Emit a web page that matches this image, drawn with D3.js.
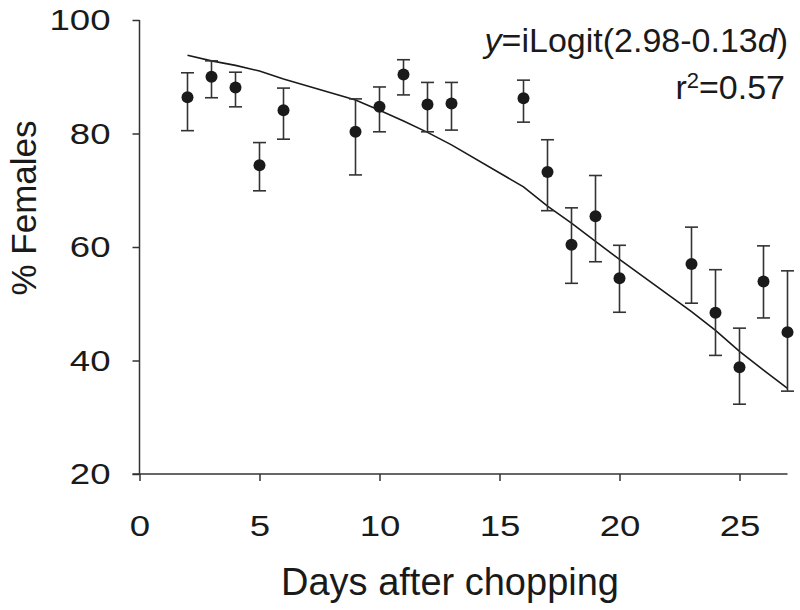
<!DOCTYPE html>
<html>
<head>
<meta charset="utf-8">
<script src="https://cdn.jsdelivr.net/npm/d3@7/dist/d3.min.js"></script>
<style>
  body { margin: 0; background: #fff; }
  svg { display: block; }
  text { font-family: "Liberation Sans", Arial, sans-serif; fill: #1a1a1a; }
</style>
</head>
<body>
<svg id="chart" width="800" height="610" viewBox="0 0 800 610"></svg>
<script>
// days after chopping and % females (mean, upper and lower error bar)
const days  = [2, 3, 4, 5, 6, 9, 10, 11, 12, 13, 16, 17, 18, 19, 20, 23, 24, 25, 26, 27]
const pct   = [86.4, 90.0, 88.1, 74.4, 84.1, 80.3, 84.7, 90.4, 85.1, 85.3, 86.2, 73.2, 60.4, 65.4, 54.5, 57.0, 48.4, 38.8, 53.9, 45.0]
const upper = [90.7, 92.8, 90.8, 78.4, 88.0, 86.1, 88.2, 93.0, 89.0, 89.0, 89.4, 78.9, 66.9, 72.6, 60.3, 63.5, 56.0, 45.7, 60.2, 55.8]
const lower = [80.5, 86.3, 84.7, 69.9, 79.0, 72.7, 80.3, 86.8, 80.3, 80.6, 82.0, 66.4, 53.6, 57.4, 48.5, 50.1, 40.9, 32.3, 47.5, 34.6]
// fitted curve
const fit   = [93.8, 92.8, 92.0, 91.0, 89.6, 85.9, 84.1, 82.2, 80.2, 78.0, 70.6, 67.2, 64.2, 61.0, 57.8, 48.6, 45.3, 41.6, 38.3, 35.1]

const xTicks = [0, 5, 10, 15, 20, 25]
const yTicks = [20, 40, 60, 80, 100]

const svg = d3.select("#chart")
const ink = "#1a1a1a"
const axisInk = "#333"
const stretch = 1.22   // tick digits in the figure are wider than Arial

const x = d3.scaleLinear().domain([0, 27]).range([139.5, 787.5])
const y = d3.scaleLinear().domain([20, 100]).range([474, 20])

const rows = days.map((d, i) => ({d: d, v: pct[i], hi: upper[i], lo: lower[i], f: fit[i]}))

// x axis
const xAxis = svg.append("g")
    .attr("transform", `translate(0,${y(20)})`)
    .call(d3.axisBottom(x).tickValues(xTicks).tickSize(7).tickSizeOuter(0).tickPadding(34))
xAxis.select(".domain").remove()
xAxis.append("line")
    .attr("x1", x(0) - 7).attr("x2", x(27))
    .attr("stroke", axisInk).attr("stroke-width", 1.5)
xAxis.selectAll(".tick line").attr("stroke", axisInk).attr("stroke-width", 1.5)
xAxis.selectAll(".tick text")
    .attr("font-size", 30)
    .attr("fill", ink)
    .attr("transform", `scale(${stretch},1)`)
    .style("font-family", "'Liberation Sans', Arial, sans-serif")

// y axis
const yAxis = svg.append("g")
    .attr("transform", `translate(${x(0)},0)`)
    .call(d3.axisLeft(y).tickValues(yTicks).tickSize(7).tickSizeOuter(0).tickPadding(22))
yAxis.select(".domain").remove()
yAxis.append("line")
    .attr("y1", y(100)).attr("y2", y(20))
    .attr("stroke", axisInk).attr("stroke-width", 1.5)
yAxis.selectAll(".tick line").attr("stroke", axisInk).attr("stroke-width", 1.5)
yAxis.selectAll(".tick text")
    .attr("x", 0)
    .attr("font-size", 30)
    .attr("fill", ink)
    .attr("transform", `translate(-29,0) scale(${stretch},1)`)
    .style("font-family", "'Liberation Sans', Arial, sans-serif")

// axis titles
svg.append("text")
    .attr("x", 450)
    .attr("y", 595)
    .attr("text-anchor", "middle")
    .attr("font-size", 38)
    .text("Days after chopping")

svg.append("text")
    .attr("transform", `translate(36,208) rotate(-90)`)
    .attr("text-anchor", "middle")
    .attr("font-size", 35)
    .text("% Females")

// fitted curve
const line = d3.line()
    .x(d => x(d.d))
    .y(d => y(d.f))
svg.append("path")
    .datum(rows)
    .attr("d", line)
    .attr("fill", "none")
    .attr("stroke", ink)
    .attr("stroke-width", 1.6)

// error bars
const bars = svg.append("g")
    .attr("stroke", axisInk)
    .attr("stroke-width", 1.6)
bars.selectAll(".stem")
    .data(rows)
    .enter()
    .append("line")
    .attr("x1", d => x(d.d)).attr("x2", d => x(d.d))
    .attr("y1", d => y(d.hi)).attr("y2", d => y(d.lo))
bars.selectAll(".capHi")
    .data(rows)
    .enter()
    .append("line")
    .attr("x1", d => x(d.d) - 6.5).attr("x2", d => x(d.d) + 6.5)
    .attr("y1", d => y(d.hi)).attr("y2", d => y(d.hi))
bars.selectAll(".capLo")
    .data(rows)
    .enter()
    .append("line")
    .attr("x1", d => x(d.d) - 6.5).attr("x2", d => x(d.d) + 6.5)
    .attr("y1", d => y(d.lo)).attr("y2", d => y(d.lo))

// points
svg.append("g")
    .selectAll("circle")
    .data(rows)
    .enter()
    .append("circle")
    .attr("cx", d => x(d.d))
    .attr("cy", d => y(d.v))
    .attr("r", 6)
    .attr("fill", ink)

// fit annotation
const note = svg.append("text")
    .attr("x", 788)
    .attr("y", 52)
    .attr("text-anchor", "end")
    .attr("font-size", 34)
note.append("tspan").attr("font-style", "italic").text("y")
note.append("tspan").text("=iLogit(2.98-0.13")
note.append("tspan").attr("font-style", "italic").text("d")
note.append("tspan").text(")")

const r2 = svg.append("text")
    .attr("x", 785)
    .attr("y", 99)
    .attr("text-anchor", "end")
    .attr("font-size", 34)
r2.append("tspan").text("r")
r2.append("tspan").attr("font-size", 22).attr("dy", -11).text("2")
r2.append("tspan").attr("dy", 11).text("=0.57")
</script>
</body>
</html>
